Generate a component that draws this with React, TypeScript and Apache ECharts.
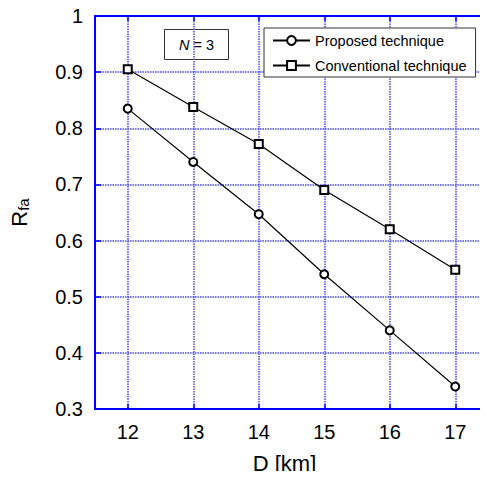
import React, { useEffect, useRef } from "react";
import * as echarts from "echarts";

const distances = [12, 13, 14, 15, 16, 17];
const proposed = [0.835, 0.74, 0.647, 0.54, 0.44, 0.34];
const conventional = [0.905, 0.838, 0.772, 0.69, 0.62, 0.548];
const seriesNames = ["Proposed technique", "Conventional technique"];

const BLUE = "#0000ff";
const GRID_BLUE = "#4646ff";
const FONT = "Liberation Sans, Arial, sans-serif";

export default function App() {
  const ref = useRef<HTMLDivElement>(null);
  useEffect(() => {
    const chart = echarts.init(ref.current!, null, { renderer: "svg" });
    const xCommon = {
      type: "value",
      min: 11.5,
      max: 17.5,
      splitNumber: 6,
    };
    chart.setOption({
      animation: false,
      backgroundColor: "#fff",
      grid: { left: 94, top: 16, width: 397, height: 396, containLabel: false },
      xAxis: [
        {
          ...xCommon,
          position: "bottom",
          name: "D [km]",
          nameLocation: "middle",
          nameGap: 43,
          nameTextStyle: { fontFamily: FONT, fontSize: 22, color: "#000", padding: [0, 14, 0, 0] },
          axisLine: { show: true, onZero: false, lineStyle: { color: BLUE, width: 2 } },
          axisTick: { show: true, inside: true, length: 5, lineStyle: { color: BLUE, width: 1.5 } },
          axisLabel: {
            margin: 13,
            fontFamily: FONT,
            fontSize: 20,
            color: "#000",
            showMinLabel: false,
            showMaxLabel: false,
            formatter: (v: number) => (Number.isInteger(v) ? String(v) : ""),
          },
          splitLine: { show: true, lineStyle: { color: GRID_BLUE, width: 1.5, type: [1.5, 1] } },
        },
        {
          ...xCommon,
          position: "top",
          axisLine: { show: true, onZero: false, lineStyle: { color: BLUE, width: 2 } },
          axisTick: { show: true, inside: true, length: 5, lineStyle: { color: BLUE, width: 1.5 } },
          axisLabel: { show: false },
          splitLine: { show: false },
        },
      ],
      yAxis: {
        type: "value",
        min: 0.3,
        max: 1,
        interval: 0.1,
        name: "{r|R}{s|fa}",
        nameLocation: "middle",
        nameGap: 64,
        nameRotate: 90,
        nameTextStyle: {
          fontFamily: FONT,
          color: "#000",
          rich: {
            r: { fontFamily: FONT, fontSize: 22, color: "#000" },
            s: { fontFamily: FONT, fontSize: 15, color: "#000", verticalAlign: "bottom", padding: [9, 0, 0, 0] },
          },
        },
        axisLine: { show: true, onZero: false, lineStyle: { color: BLUE, width: 2 } },
        axisTick: { show: true, inside: true, length: 6, lineStyle: { color: BLUE, width: 1.5 } },
        axisLabel: {
          margin: 12,
          fontFamily: FONT,
          fontSize: 20,
          color: "#000",
          formatter: (v: number) => String(Math.round(v * 10) / 10),
        },
        splitLine: { show: true, lineStyle: { color: GRID_BLUE, width: 1.5, type: [1.5, 1] } },
      },
      legend: {
        left: 264,
        top: 28,
        orient: "vertical",
        data: seriesNames,
        backgroundColor: "#fff",
        borderColor: "#333",
        borderWidth: 1,
        borderRadius: 0,
        padding: [5, 9, 4, 8],
        itemWidth: 37,
        itemHeight: 11,
        itemGap: 10,
        textStyle: { fontFamily: FONT, fontSize: 14.5, color: "#000" },
      },
      graphic: [
        {
          type: "group",
          left: 164,
          top: 29,
          z: 100,
          children: [
            {
              type: "rect",
              shape: { x: 0, y: 0, width: 64, height: 30 },
              style: { fill: "#fff", stroke: "#333", lineWidth: 1 },
            },
            {
              type: "text",
              x: 32,
              y: 15,
              style: {
                text: "{i|N} = 3",
                align: "center",
                verticalAlign: "middle",
                fontFamily: FONT,
                fontSize: 14.5,
                fill: "#000",
                rich: { i: { fontFamily: FONT, fontSize: 14.5, fontStyle: "italic", fill: "#000" } },
              },
            },
          ],
        },
      ],
      series: [
        {
          name: seriesNames[0],
          type: "line",
          xAxisIndex: 0,
          data: distances.map((d, i) => [d, proposed[i]]),
          symbol: "emptyCircle",
          symbolSize: 8,
          lineStyle: { color: "#000", width: 1.2 },
          itemStyle: { color: "#000", borderColor: "#000", borderWidth: 1 },
          z: 5,
        },
        {
          name: seriesNames[1],
          type: "line",
          xAxisIndex: 0,
          data: distances.map((d, i) => [d, conventional[i]]),
          symbol: "emptyRect",
          symbolSize: 8,
          lineStyle: { color: "#000", width: 1.2 },
          itemStyle: { color: "#000", borderColor: "#000", borderWidth: 1 },
          z: 5,
        },
      ],
    });
    return () => chart.dispose();
  }, []);
  return <div ref={ref} style={{ width: 488, height: 479, margin: -8 }} />;
}
